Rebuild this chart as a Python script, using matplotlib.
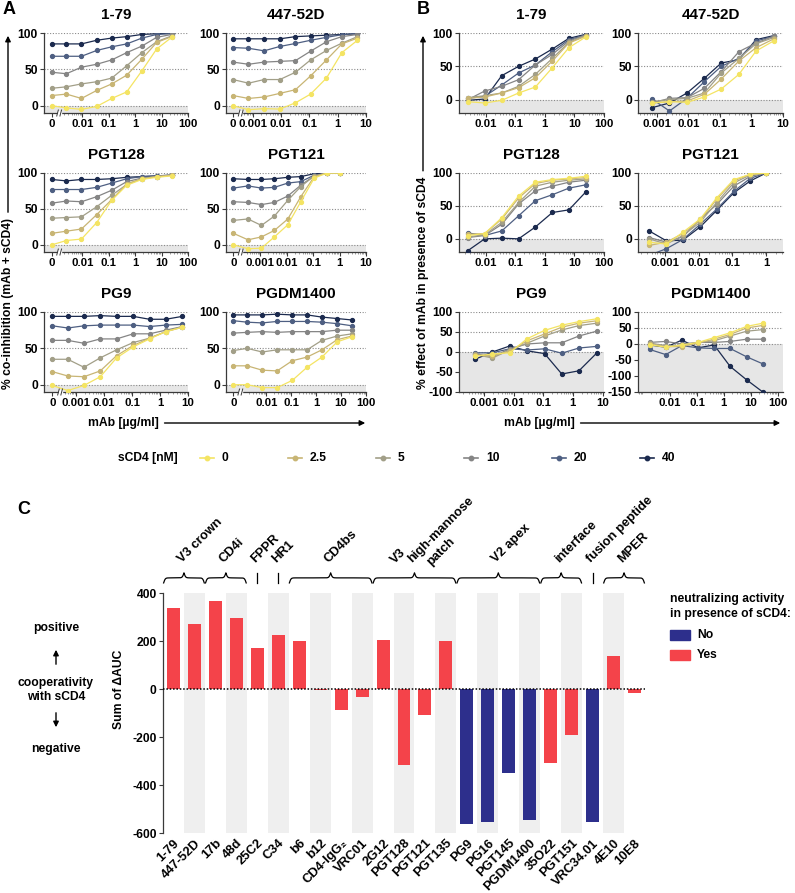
import numpy as np
import matplotlib
matplotlib.use("Agg")
import matplotlib.pyplot as plt
from matplotlib.lines import Line2D
from matplotlib.patches import Rectangle, FancyArrowPatch
from matplotlib.ticker import FixedLocator, FixedFormatter, NullFormatter
import matplotlib.transforms as mtrans

plt.rcParams['font.family'] = ['Liberation Sans', 'DejaVu Sans']
plt.rcParams['font.weight'] = 'bold'
FS = 8.7
FS_XT = 8.2
FS_C = 9.3

# ------------------------------------------------------------------ data
SCD4_LEVELS = ["0", "2.5", "5", "10", "20", "40"]
SCD4_COLORS = ["#F4E463", "#C8B574", "#A29F88", "#858585", "#4E5F82", "#1B2A4E"]

# mAb concentrations (ug/ml)
CONC_1_79 = [0.0025, 0.0093, 0.035, 0.13, 0.48, 1.8, 6.5, 24]
CONC_447_52D = [0.0007, 0.0025, 0.009, 0.032, 0.11, 0.4, 1.4, 5.0]
CONC_PGT128 = [0.0025, 0.0093, 0.035, 0.13, 0.48, 1.8, 6.5, 24]
CONC_PGT121 = [0.00034, 0.0011, 0.0034, 0.011, 0.034, 0.11, 0.34, 1.0]
CONC_PG9 = [0.0005, 0.0019, 0.0073, 0.028, 0.11, 0.42, 1.6, 6.3]
CONC_PGDM1400 = [0.0017, 0.0068, 0.027, 0.11, 0.43, 1.7, 7.0, 28]

# Panel A: % co-inhibition; first value = no mAb; rows = sCD4 0,2.5,5,10,20,40
A_1_79 = [[0, -3, -5, -1, 10, 19, 48, 78, 94],
          [14, 16, 10, 21, 30, 42, 64, 87, 95],
          [24, 26, 30, 33, 38, 55, 73, 88, 96],
          [46, 44, 53, 57, 63, 73, 82, 94, 98],
          [68, 68, 68, 76, 81, 85, 93, 98, 99],
          [85, 85, 85, 90, 93, 95, 98, 99, 100]]
A_447_52D = [[0, -5.5, -4, -4.6, 4, 16, 38, 73, 90],
             [14, 10, 12, 17, 22, 41, 63, 85, 93],
             [36, 31, 36, 36, 46, 63, 76, 86, 95],
             [60, 57, 60, 61, 62, 75, 88, 95, 98],
             [80, 79, 75.5, 81.5, 85.6, 90, 94, 97.7, 99.5],
             [92, 92, 92, 92, 95, 96, 97, 98, 99]]
A_PGT128 = [[0, 6, 8, 31, 62, 83, 91, 94, 96],
            [16, 19, 22, 42, 63, 85, 92, 95, 97],
            [37, 38, 39, 53, 69, 84, 92, 95, 97],
            [58, 61, 60, 67, 76, 88, 93, 95, 97],
            [77, 77, 77, 80, 86, 92, 95, 96, 97],
            [91, 89, 91, 91, 92, 94, 95, 96, 97]]
A_PGT121 = [[0, -5.5, -4.6, 11, 28, 60, 93, 100, 100],
            [16, 7, 11, 20, 36, 67, 95, 100, 100],
            [34, 36, 27, 40, 62, 81, 96, 100, 100],
            [60, 59, 56, 59, 68, 83, 96, 100, 100],
            [79, 82, 79, 80, 86, 88, 97, 100, 100],
            [92, 91, 91, 92, 94, 95, 99, 100, 100]]
A_PG9 = [[-1, -8, -1, 11, 37, 52, 63, 73, 79],
         [18, 12, 11, 19, 40, 54, 64, 73, 79],
         [35, 35, 24, 37, 48, 58, 64, 73, 80],
         [61, 61, 57, 63, 63, 70, 70, 75, 80],
         [81, 78, 81, 82, 82, 82, 80, 82, 83],
         [94, 94, 94, 95, 94, 94, 90, 90, 94]]
A_PGDM1400 = [[0, 0, -4, -4, 6, 24, 38, 59, 66],
              [26, 26, 20, 19, 33, 38, 48, 62, 67],
              [47, 50, 45, 48, 48, 48, 61, 67, 70],
              [71, 72, 73, 72, 73, 73, 73, 75, 75],
              [88, 86, 85, 87, 87, 87, 86, 84, 81],
              [96, 96, 96, 97, 96, 96, 93, 91, 89]]

# Panel B: % effect of mAb in presence of sCD4
B_1_79 = [[-3, -5, -1, 10, 19, 48, 78, 94],
          [2, 4, 10, 18, 33, 58, 85, 95],
          [3, 6, 10, 20, 38, 62, 86, 96],
          [0, 13, 20, 30, 52, 68, 88, 97],
          [2, 5, 22, 40, 52, 72, 90, 97],
          [-1, 1, 36, 50, 61, 76, 92, 98]]
B_447_52D = [[-5, -3, -4, 4, 16, 38, 73, 88],
             [-5, -3, -2, 8, 31, 58, 78, 91],
             [-3, 0, 2, 10, 40, 62, 84, 93],
             [-5, 2, 3, 17, 42, 72, 85, 95],
             [1, -17, 2, 27, 50, 62, 88, 95],
             [-12, -5, 10, 32, 55, 60, 90, 96]]
B_PGT128 = [[5, 8, 32, 65, 86, 90, 92, 95],
            [7, 8, 30, 62, 84, 89, 91, 93],
            [3, 6, 25, 55, 80, 86, 89, 91],
            [2, 5, 22, 53, 73, 80, 86, 89],
            [9, 5, 12, 35, 58, 67, 77, 82],
            [-18, 0, 1, 0, 18, 40, 44, 71]]
B_PGT121 = [[-5, -8, 10, 30, 62, 90, 98, 100],
            [-10, -5, 8, 28, 60, 88, 98, 100],
            [0, -8, 5, 25, 55, 85, 97, 100],
            [2, -5, 3, 30, 52, 80, 95, 100],
            [-25, -15, -1, 22, 45, 72, 92, 100],
            [12, -3, -2, 18, 43, 70, 88, 100]]
B_PG9 = [[-10, -5, -2, 33, 54, 67, 76, 83],
         [-8, -10, 2, 28, 45, 62, 72, 78],
         [-6, -15, 5, 22, 40, 55, 66, 72],
         [-4, -12, 8, 20, 23, 23, 40, 52],
         [-2, -2, 8, 5, 8, -3, 10, 14],
         [-18, 0, 15, 3, -4, -55, -47, -3]]
B_PGDM1400 = [[-2, -10, -3, 5, 20, 35, 55, 65],
              [0, -8, -8, 3, 15, 30, 50, 58],
              [3, -5, -5, 5, 10, 25, 40, 45],
              [5, 8, 0, 5, 5, 8, 15, 15],
              [-17, -33, -5, -12, -14, -14, -40, -62],
              [-3, -10, 12, -12, -3, -70, -112, -150]]

# Panel C
ANTIBODIES = ["1-79", "447-52D", "17b", "48d", "25C2", "C34", "b6", "b12",
              "CD4-IgG\u2082", "VRC01", "2G12", "PGT128", "PGT121", "PGT135",
              "PG9", "PG16", "PGT145", "PGDM1400", "35O22", "PGT151",
              "VRC34.01", "4E10", "10E8"]
SUM_DAUC = [337, 270, 366, 294, 170, 226, 198, -3, -88, -32, 206, -316, -108,
            198, -562, -554, -348, -546, -308, -192, -554, 138, -18]
NEUTRALIZING = ["Yes", "Yes", "Yes", "Yes", "Yes", "Yes", "Yes", "Yes", "Yes",
                "Yes", "Yes", "Yes", "Yes", "Yes", "No", "No", "No", "No",
                "Yes", "Yes", "No", "Yes", "Yes"]
EPITOPES = ["V3 crown", "CD4i", "FPPR", "HR1", "CD4bs", "V3 high-mannose patch",
            "V2 apex", "interface", "fusion peptide", "MPER"]
EPITOPE_FIRST = [0, 2, 4, 5, 6, 10, 14, 18, 20, 21]
EPITOPE_LAST = [1, 3, 4, 5, 9, 13, 17, 19, 20, 22]
RED = "#F4434A"
BLUE = "#2D2F8C"

# ------------------------------------------------------------------ layout
W, H = 795, 893
fig = plt.figure(figsize=(W / 100, H / 100), dpi=100)
fig.patch.set_facecolor('white')


def fx(px):
    return px / W


def fy(py):
    return 1 - py / H


def pax(x0, y0, x1, y1):
    return fig.add_axes([fx(x0), fy(y1), (x1 - x0) / W, (y1 - y0) / H])


def style_axes(ax, ylim, yticks):
    ax.set_ylim(*ylim)
    ax.set_yticks(yticks)
    ax.set_yticklabels([str(v) for v in yticks], fontsize=FS, fontweight='bold')
    for s in ['top', 'right']:
        ax.spines[s].set_visible(False)
    for s in ['left', 'bottom']:
        ax.spines[s].set_color('#3A3A3A')
        ax.spines[s].set_linewidth(0.9)
    ax.tick_params(axis='both', which='major', length=3, width=0.8,
                   color='#3A3A3A', pad=1.5)
    ax.tick_params(axis='x', which='minor', length=1.6, width=0.5, color='#777777')
    ax.axhspan(ylim[0], 0, color='#E6E6E6', zorder=0, lw=0)
    for g in (0, 50, 100):
        ax.axhline(g, ls=(0, (1, 1.5)), color='#8A8A8A', lw=0.8, zorder=1)


def dose_panel(box, conc, rows, title, xlim, ticklabels, ylim, yticks, zero=False):
    ax = pax(*box)
    ax.set_xscale('log')
    ax.set_xlim(*xlim)
    style_axes(ax, ylim, yticks)
    xs = list(conc)
    zero_x = None
    if zero:
        zero_x = conc[0] / 10 ** 0.55
        xs = [zero_x] + xs
    for vals, col in list(zip(rows, SCD4_COLORS))[::-1]:
        ax.plot(xs, vals, color=col, lw=0.9, marker='o', ms=2.8, mfc=col,
                mec=col, zorder=3)
    pos = []
    for lab in ticklabels:
        pos.append(zero_x if lab == "0" else float(lab))
    ax.xaxis.set_major_locator(FixedLocator(pos))
    ax.xaxis.set_major_formatter(FixedFormatter(ticklabels))
    lo = int(np.floor(np.log10(xlim[0])))
    hi = int(np.ceil(np.log10(xlim[1])))
    minors = []
    xmin_minor = (np.sqrt(zero_x * conc[0]) * 1.15) if zero else xlim[0]
    for d in range(lo, hi + 1):
        for k in range(2, 10):
            v = k * 10.0 ** d
            if xmin_minor < v < xlim[1]:
                minors.append(v)
    ax.xaxis.set_minor_locator(FixedLocator(minors))
    ax.xaxis.set_minor_formatter(NullFormatter())
    for t in ax.get_xticklabels():
        t.set_fontsize(FS_XT)
        t.set_fontweight('bold')
    if zero:
        xb = np.sqrt(zero_x * conc[0])
        trans = mtrans.blended_transform_factory(ax.transData, ax.transAxes)
        axw = box[2] - box[0]
        axh = box[3] - box[1]
        dec_px = axw / np.log10(xlim[1] / xlim[0])
        f = lambda p: 10 ** (p / dec_px)
        dy = 3.0 / axh
        ax.add_patch(Rectangle((xb * f(-1.5), -0.02), xb * f(1.5) - xb * f(-1.5), 0.04,
                               transform=trans, color='white', clip_on=False, zorder=5))
        for off in (-1.6, 1.6):
            xc = xb * f(off)
            ax.plot([xc * f(-0.8), xc * f(0.8)], [-dy, dy], transform=trans,
                    color='#3A3A3A', lw=0.7, clip_on=False, zorder=6)
    cx = (box[0] + box[2]) / 2
    fig.text(fx(cx), fy(box[1] - 18), title, ha='center', va='center',
             fontsize=11, fontweight='bold')
    return ax


A_TICKS_100 = ["0", "0.01", "0.1", "1", "10", "100"]
A_TICKS_10 = ["0", "0.001", "0.01", "0.1", "1", "10"]

ROWS = [(33, 113), (173, 252), (312, 392)]
ACOL = [(44, 188), (226, 366)]
BCOL = [(459, 604), (638, 783)]

# Panel A
dose_panel((ACOL[0][0], ROWS[0][0], ACOL[0][1], ROWS[0][1]), CONC_1_79, A_1_79, "1-79",
           (10 ** -3.45, 100), A_TICKS_100, (-10, 100), [0, 50, 100], zero=True)
dose_panel((ACOL[1][0], ROWS[0][0], ACOL[1][1], ROWS[0][1]), CONC_447_52D, A_447_52D, "447-52D",
           (10 ** -3.95, 10), A_TICKS_10, (-10, 100), [0, 50, 100], zero=True)
dose_panel((ACOL[0][0], ROWS[1][0], ACOL[0][1], ROWS[1][1]), CONC_PGT128, A_PGT128, "PGT128",
           (10 ** -3.45, 100), A_TICKS_100, (-10, 100), [0, 50, 100], zero=True)
dose_panel((ACOL[1][0], ROWS[1][0], ACOL[1][1], ROWS[1][1]), CONC_PGT121, A_PGT121, "PGT121",
           (10 ** -4.3, 10), A_TICKS_10, (-10, 100), [0, 50, 100], zero=True)
dose_panel((ACOL[0][0], ROWS[2][0], ACOL[0][1], ROWS[2][1]), CONC_PG9, A_PG9, "PG9",
           (10 ** -4.15, 10), A_TICKS_10, (-10, 100), [0, 50, 100], zero=True)
dose_panel((ACOL[1][0], ROWS[2][0], ACOL[1][1], ROWS[2][1]), CONC_PGDM1400, A_PGDM1400, "PGDM1400",
           (10 ** -3.62, 100), A_TICKS_100, (-10, 100), [0, 50, 100], zero=True)

# Panel B
dose_panel((BCOL[0][0], ROWS[0][0], BCOL[0][1], ROWS[0][1]), CONC_1_79, B_1_79, "1-79",
           (10 ** -2.9, 100), ["0.01", "0.1", "1", "10", "100"], (-20, 100), [0, 50, 100])
dose_panel((BCOL[1][0], ROWS[0][0], BCOL[1][1], ROWS[0][1]), CONC_447_52D, B_447_52D, "447-52D",
           (10 ** -3.6, 10), ["0.001", "0.01", "0.1", "1", "10"], (-20, 100), [0, 50, 100])
dose_panel((BCOL[0][0], ROWS[1][0], BCOL[0][1], ROWS[1][1]), CONC_PGT128, B_PGT128, "PGT128",
           (10 ** -2.9, 100), ["0.01", "0.1", "1", "10", "100"], (-20, 100), [0, 50, 100])
dose_panel((BCOL[1][0], ROWS[1][0], BCOL[1][1], ROWS[1][1]), CONC_PGT121, B_PGT121, "PGT121",
           (10 ** -3.8, 10 ** 0.5), ["0.0001", "0.001", "0.01", "0.1", "1"], (-20, 100), [0, 50, 100])
dose_panel((BCOL[0][0], ROWS[2][0], BCOL[0][1], ROWS[2][1]), CONC_PG9, B_PG9, "PG9",
           (10 ** -3.85, 10 ** 1.05), ["0.001", "0.01", "0.1", "1", "10"], (-100, 100),
           [-100, -50, 0, 50, 100])
dose_panel((BCOL[1][0], ROWS[2][0], BCOL[1][1], ROWS[2][1]), CONC_PGDM1400, B_PGDM1400, "PGDM1400",
           (10 ** -3.2, 10 ** 2.2), ["0.01", "0.1", "1", "10", "100"], (-150, 100),
           [-150, -100, -50, 0, 50, 100])

# panel letters
fig.text(fx(3), fy(10), "A", fontsize=13, fontweight='bold', va='center', ha='left')
fig.text(fx(417), fy(10), "B", fontsize=13, fontweight='bold', va='center', ha='left')
fig.text(fx(17), fy(510), "C", fontsize=13, fontweight='bold', va='center', ha='left')

# y labels with arrows
ylab_a = fig.text(fx(8), fy(389), "% co-inhibition (mAb + sCD4)", rotation=90,
                  ha='center', va='bottom', fontsize=FS, fontweight='bold')
ylab_b = fig.text(fx(423), fy(389), "% effect of mAb in presence of sCD4", rotation=90,
                  ha='center', va='bottom', fontsize=FS, fontweight='bold')
xlab_a = fig.text(fx(88), fy(423), "mAb [\u00b5g/ml]", ha='left', va='center',
                  fontsize=FS, fontweight='bold')
xlab_b = fig.text(fx(504), fy(423), "mAb [\u00b5g/ml]", ha='left', va='center',
                  fontsize=FS, fontweight='bold')
fig.canvas.draw()
rend = fig.canvas.get_renderer()


def farrow(p0, p1):
    fig.add_artist(FancyArrowPatch((fx(p0[0]), fy(p0[1])), (fx(p1[0]), fy(p1[1])),
                                   transform=fig.transFigure, arrowstyle='-|>',
                                   mutation_scale=8, lw=1.0, color='black'))


for t, x in ((ylab_a, 8), (ylab_b, 423)):
    bb = t.get_window_extent(rend)
    top = H - bb.y1
    farrow((x, top - 3), (x, 33))
for t, xend in ((xlab_a, 368), (xlab_b, 783)):
    bb = t.get_window_extent(rend)
    farrow((bb.x1 + 3, 423), (xend, 423))

# sCD4 legend
fig.text(fx(118), fy(458), "sCD4 [nM]", ha='left', va='center', fontsize=FS,
         fontweight='bold')
for i, (lab, col) in enumerate(zip(SCD4_LEVELS, SCD4_COLORS)):
    mx = 207 + i * 88
    fig.add_artist(Line2D([fx(mx - 7), fx(mx + 7)], [fy(458), fy(458)],
                          transform=fig.transFigure, color=col, lw=1.2))
    fig.add_artist(Line2D([fx(mx)], [fy(458)], transform=fig.transFigure,
                          color=col, marker='o', ms=3.2))
    fig.text(fx(mx + 15), fy(458), lab, ha='left', va='center', fontsize=FS,
             fontweight='bold')

# ------------------------------------------------------------------ panel C
axc = pax(163, 593, 645, 833)
n = len(ANTIBODIES)
idx = np.arange(n)
for i in range(1, n, 2):
    axc.axvspan(i - 0.5, i + 0.5, color='#EFEFEF', lw=0, zorder=0)
cols = [RED if v == "Yes" else BLUE for v in NEUTRALIZING]
axc.bar(idx, SUM_DAUC, width=0.62, color=cols, zorder=2, lw=0)
axc.axhline(0, color='black', ls=(0, (1, 1.2)), lw=1.1, zorder=3)
axc.set_xlim(-0.5, n - 0.5)
axc.set_ylim(-600, 400)
axc.set_yticks([400, 200, 0, -200, -400, -600])
axc.set_yticklabels(["400", "200", "0", "-200", "-400", "-600"], fontsize=FS,
                    fontweight='bold')
for s in ['top', 'right', 'bottom']:
    axc.spines[s].set_visible(False)
axc.spines['left'].set_color('#3A3A3A')
axc.spines['left'].set_linewidth(0.9)
axc.tick_params(axis='y', length=3, width=0.8, color='#3A3A3A', pad=1.5)
axc.set_xticks(idx)
axc.set_xticklabels(ANTIBODIES, rotation=45, ha='right', va='top',
                    rotation_mode='anchor', fontsize=FS_C, fontweight='bold')
axc.tick_params(axis='x', length=0, pad=3)
axc.text(-2.6, 0, "Sum of \u0394AUC", rotation=90, ha='center', va='center',
         fontsize=FS, fontweight='bold', clip_on=False)


def brace(ax, xa, xb, y0, h, beta=26):
    x = np.linspace(xa, xb, 401)
    half = x[:201]
    yh = (1 / (1 + np.exp(-beta * (half - half[0])))
          + 1 / (1 + np.exp(-beta * (half - half[-1]))))
    yy = np.concatenate([yh, yh[-2::-1]])
    yy = y0 + (yy - 0.5) * h
    ax.plot(x, yy, color='black', lw=0.9, clip_on=False)


BR_BASE, BR_H, LAB_Y = 442, 42, 517
for lab, a, b in zip(EPITOPES, EPITOPE_FIRST, EPITOPE_LAST):
    c = (a + b) / 2
    if a == b:
        axc.plot([c, c], [BR_BASE, BR_BASE + BR_H], color='black', lw=0.9,
                 clip_on=False)
    else:
        brace(axc, a - 0.47, b + 0.47, BR_BASE, BR_H)
    if lab.startswith("V3 high"):
        parts = [("V3", -0.84, -5), ("high-mannose", 0.0, 0), ("patch", 0.88, -13)]
    else:
        parts = [(lab, 0.0, 0)]
    for txt, dx, dy in parts:
        axc.text(c + dx, LAB_Y + dy, txt, rotation=45, ha='left', va='bottom',
                 rotation_mode='anchor', fontsize=FS_C, fontweight='bold',
                 clip_on=False)

# C legend
fig.text(fx(670), fy(599), "neutralizing activity", ha='left', va='center',
         fontsize=FS, fontweight='bold')
fig.text(fx(670), fy(614), "in presence of sCD4:", ha='left', va='center',
         fontsize=FS, fontweight='bold')
for j, (lab, col) in enumerate((("No", BLUE), ("Yes", RED))):
    yc = 635 + j * 19.5
    fig.add_artist(Rectangle((fx(670), fy(yc + 5)), 20 / W, 10 / H,
                             transform=fig.transFigure, color=col))
    fig.text(fx(697), fy(yc), lab, ha='left', va='center', fontsize=FS,
             fontweight='bold')

# left annotation
fig.text(fx(56), fy(628), "positive", ha='center', va='center', fontsize=FS,
         fontweight='bold')
fig.text(fx(56), fy(690), "cooperativity\nwith sCD4", ha='center', va='center',
         fontsize=FS, fontweight='bold', linespacing=1.25)
fig.text(fx(56), fy(749), "negative", ha='center', va='center', fontsize=FS,
         fontweight='bold')
farrow((56, 667), (56, 647))
farrow((56, 710), (56, 730))

fig.savefig("out.png", dpi=100, facecolor='white')
